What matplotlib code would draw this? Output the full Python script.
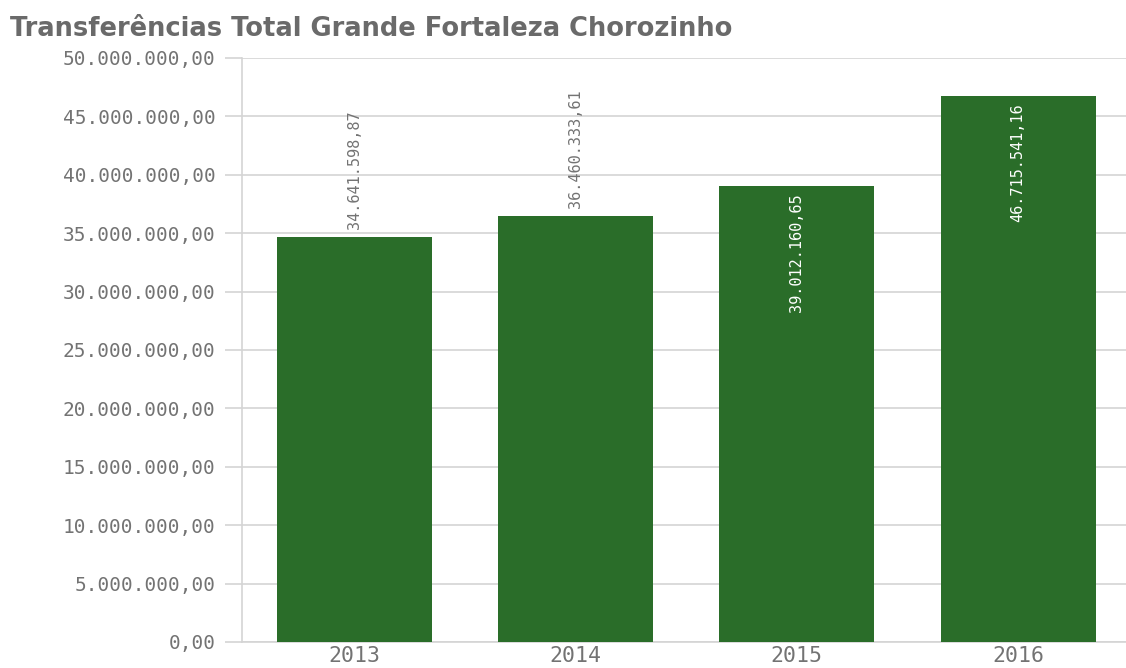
import matplotlib
matplotlib.use("Agg")
import matplotlib.pyplot as plt

years = ["2013", "2014", "2015", "2016"]
values = [34641598.87, 36460333.61, 39012160.65, 46715541.16]
yticks = [0, 5e6, 10e6, 15e6, 20e6, 25e6, 30e6, 35e6, 40e6, 45e6, 50e6]
title = "Transferências Total Grande Fortaleza Chorozinho"


def br_fmt(v):
    s = f"{v:,.2f}"
    return s.replace(",", "X").replace(".", ",").replace("X", ".")


fig = plt.figure(figsize=(11.26, 6.68), dpi=100)
ax = fig.add_axes([242 / 1126, 26 / 668, 884 / 1126, 584 / 668])

x = list(range(len(years)))
ax.bar(x, values, width=0.70, color="#2a6d29", zorder=3)

ax.set_xlim(-0.506, 3.487)
ax.set_ylim(0, 50e6)
ax.set_yticks(yticks)
ax.set_yticklabels([br_fmt(v) for v in yticks])
ax.set_xticks(x)
ax.set_xticklabels(years)

grid_c = "#d4d4d4"
ax.grid(axis="y", color=grid_c, linewidth=1.2, zorder=0)
for s in ["top", "right"]:
    ax.spines[s].set_visible(False)
ax.spines["left"].set_color(grid_c)
ax.spines["bottom"].set_color(grid_c)
ax.spines["left"].set_linewidth(1.2)
ax.spines["bottom"].set_linewidth(1.2)

ax.tick_params(axis="y", length=12, color=grid_c, width=1.2, pad=7,
               labelsize=14, labelcolor="#737373")
ax.tick_params(axis="x", length=0, pad=3, labelsize=15.5, labelcolor="#737373")
for lab in ax.get_yticklabels() + ax.get_xticklabels():
    lab.set_fontfamily("DejaVu Sans Mono")

# value labels: above bar when it fits, inside otherwise
for i, v in enumerate(values):
    if v < 38e6:
        ax.annotate(br_fmt(v), (i, v), xytext=(0, 6), textcoords="offset points",
                    rotation=90, ha="center", va="bottom", fontsize=11,
                    family="DejaVu Sans Mono", color="#737373")
    else:
        ax.annotate(br_fmt(v), (i, v), xytext=(0, -5), textcoords="offset points",
                    rotation=90, ha="center", va="top", fontsize=11,
                    family="DejaVu Sans Mono", color="white")

t = fig.text(10 / 1126, 1 - 29 / 668, title,
             fontsize=16, fontweight="bold", family="DejaVu Sans", color="#6a6a6a",
             ha="left", va="center")
# fit the title to the reference width
r = fig.canvas.get_renderer()
w = t.get_window_extent(r).width
t.set_fontsize(16 * 725 / w)

fig.savefig("out.png", dpi=100)
